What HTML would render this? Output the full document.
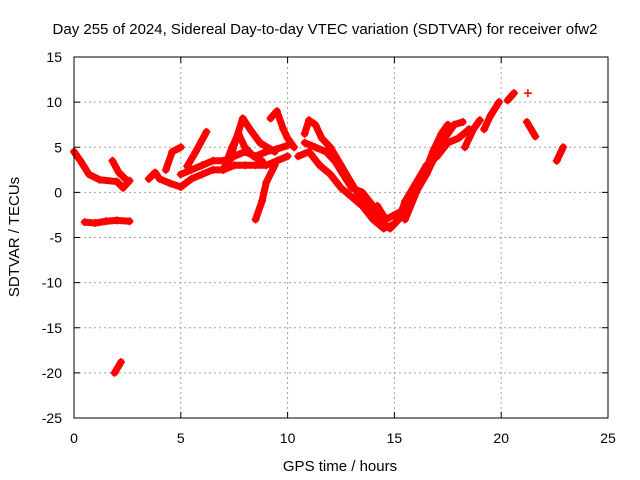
<!DOCTYPE html>
<html><head><meta charset="utf-8"><style>
body{margin:0;background:#fff}
svg{display:block;font-family:"Liberation Sans",sans-serif}
</style></head><body>
<svg id="chart" width="640" height="480">
<text x="325" y="34" text-anchor="middle" font-size="15">Day 255 of 2024, Sidereal Day-to-day VTEC variation (SDTVAR) for receiver ofw2</text>
<text x="340" y="471" text-anchor="middle" font-size="15">GPS time / hours</text>
<text transform="translate(19,237) rotate(-90)" text-anchor="middle" font-size="15">SDTVAR / TECUs</text>
<g id="grid"></g><g id="ticks"></g><g id="marks"></g>
<rect x="74" y="57" width="534" height="361" fill="none" stroke="#000"/>
</svg>
<script>
const xTicks=[0,5,10,15,20,25];
const yTicks=[15,10,5,0,-5,-10,-15,-20,-25];
const track0=[[0,4.5],[0.3,3.5],[0.7,2],[1.2,1.4],[2,1.2],[2.3,0.5],[2.6,1.3]];
const track1=[[0.5,-3.3],[1,-3.4],[1.5,-3.2],[2,-3.1],[2.6,-3.2]];
const track2=[[1.9,-20],[2.2,-18.8]];
const track3=[[1.8,3.5],[2.1,2.2],[2.4,1.5]];
const track4=[[3.5,1.5],[3.8,2.2],[4.0,1.5],[4.5,1.0],[5.0,0.6],[5.5,1.5],[6,2],[6.5,2.5],[7,2.5],[7.5,3],[8,3],[8.5,3],[9,3],[9.5,3.5],[10,4]];
const track4b=[[5.0,2.0],[5.5,2.5],[6,3],[6.5,3.5],[7,3.5],[7.5,4],[8,4.5],[8.5,4],[9,4.5],[9.5,4.8],[10,5.2]];
const track5=[[4.3,2.5],[4.6,4.5],[5,5]];
const track6=[[5.3,2.9],[5.7,4.5],[6.2,6.7]];
const track7=[[7.3,3.6],[7.6,6],[7.9,8.2],[8.3,6.8],[8.7,5.5],[9.4,4.5]];
const track7b=[[7.0,2.5],[7.4,5],[7.7,6.5],[8.0,5],[8.4,4],[8.8,3.5]];
const track8=[[8.5,-3],[8.8,-1],[9.0,1.1],[9.4,3]];
const track9=[[9.2,8.2],[9.5,9],[9.8,7],[10,6],[10.3,5]];
const track10=[[10.8,6.5],[11,8],[11.3,7.5],[11.6,6],[12,5],[12.5,3],[13,1],[13.5,-1],[14,-2.5],[14.5,-3.5],[14.8,-4],[15.2,-3],[15.5,-1],[16,1],[16.5,3],[17,4],[17.5,5.5],[18,6],[18.5,7]];
const track11=[[10.5,4],[11,4.5],[11.5,3],[12,2],[12.5,0.5],[13,-0.5],[13.5,-1.5],[14,-3],[14.5,-4],[15,-3.5],[15.5,-2],[16,0],[16.5,2],[17,4.5],[17.5,7],[17.8,7.5]];
const track11b=[[10.8,5.5],[11.3,5],[11.8,4.5],[12.2,3.5],[12.6,2],[13.0,0.5],[13.5,0],[14,-1.5],[14.3,-2.5]];
const track12=[[15.5,-3],[16.2,1],[16.8,3.5],[17.2,5.5],[17.8,7.5],[18.2,7.8]];
const track12b=[[14.2,-1.5],[14.6,-3],[15.0,-2.5],[15.4,-2],[15.8,-0.5],[16.4,2],[16.8,4.5],[17.2,6.5],[17.5,7.5]];
const track13=[[18.3,5],[18.7,7],[19,8]];
const track14=[[19.2,7],[19.5,8.5],[19.9,10]];
const track15=[[20.3,10.2],[20.6,11]];
const track16=[[21.2,7.8],[21.6,6.2]];
const track17=[[22.6,3.5],[22.8,4.5],[22.9,5]];
const track18=[[21.25,11]];
const tracks=[track0,track1,track2,track3,track4,track4b,track5,track6,track7,track7b,track8,track9,track10,track11,track11b,track12,track12b,track13,track14,track15,track16,track17,track18];
const NS="http://www.w3.org/2000/svg";
const X=t=>74+t*534/25, Y=v=>57+(15-v)*361/40;
const grid=document.getElementById('grid'),ticks=document.getElementById('ticks'),marks=document.getElementById('marks');
function mk(tag,attrs,parent){const e=document.createElementNS(NS,tag);for(const k in attrs)e.setAttribute(k,attrs[k]);parent.appendChild(e);return e;}
xTicks.forEach(t=>{const x=X(t);
 const g=mk('line',{x1:x,x2:x,y1:57,y2:418,stroke:'#a0a0a0','stroke-dasharray':'2,3'},grid);
 
 
 mk('line',{x1:x,x2:x,y1:418,y2:412,stroke:'#000'},ticks);
 mk('line',{x1:x,x2:x,y1:57,y2:63,stroke:'#000'},ticks);
 const l=mk('text',{x:x,y:443,'text-anchor':'middle','font-size':14},ticks);l.textContent=t;
 
 });
yTicks.forEach(v=>{const y=Y(v);
 const g=mk('line',{x1:74,x2:608,y1:y,y2:y,stroke:'#a0a0a0','stroke-dasharray':'2,3'},grid);
 
 
 mk('line',{x1:74,x2:80,y1:y,y2:y,stroke:'#000'},ticks);
 mk('line',{x1:602,x2:608,y1:y,y2:y,stroke:'#000'},ticks);
 const l=mk('text',{x:62,y:y+5,'text-anchor':'end','font-size':14},ticks);l.textContent=v;
 
 });
tracks.forEach(tr=>{
 const p=mk('polyline',{points:tr.map(d=>X(d[0])+','+Y(d[1])).join(' '),fill:'none',stroke:'#f00','stroke-width':7,'stroke-linejoin':'round','stroke-linecap':'round'},marks);
 
 
 tr.forEach(d=>{const x=X(d[0]),y=Y(d[1]);
  const m=mk('path',{d:`M${x-4},${y}h8M${x},${y-4}v8`,stroke:'#f00','stroke-width':1.5},marks);
  
  });
});
</script>
</body></html>
